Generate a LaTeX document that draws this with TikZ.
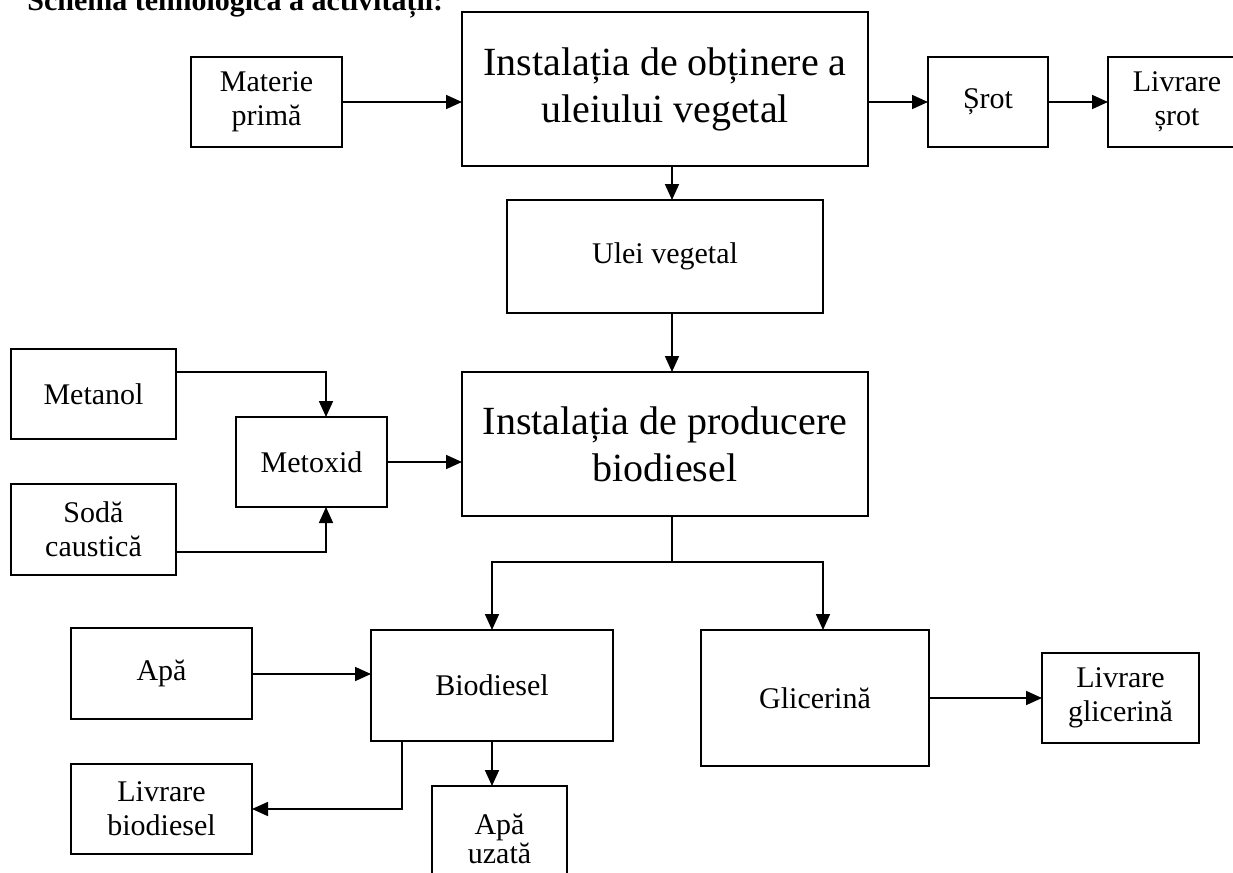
\documentclass[tikz,border=0pt]{standalone}
\usepackage{fontspec}
\setmainfont{Liberation Serif}
\usetikzlibrary{arrows.meta,calc}
\tikzset{
  box/.style={draw, line width=1pt, inner sep=2pt, outer sep=0pt, align=center, font=\fontsize{15}{17}\selectfont},
  bigbox/.style={box, font=\fontsize{20}{23.5}\selectfont},
  arr/.style={line width=0.85pt, -{Triangle[length=8pt,width=7pt]}},
  ln/.style={line width=0.85pt},
}
\begin{document}
\begin{tikzpicture}[x=0.5pt,y=-0.5pt]
\clip (0,0) rectangle (1233,873);
% title
\node[anchor=base west, inner sep=0pt, font=\fontsize{15}{18}\selectfont\bfseries] (title) at (27,10) {Schema tehnologică a activității:};
% boxes
\node[box, minimum width=75.5pt, minimum height=45pt] (mp) at (266.5,102) {Materie\\primă};
\node[bigbox, minimum width=203pt, minimum height=77pt] (inst1) at (665,89) {Instalația de obținere a\\uleiului vegetal};
\node[box, minimum width=60pt, minimum height=45pt] (srot) at (988,102) {Șrot};
\node[box, minimum width=69pt, minimum height=45pt] (lsrot) at (1177,102) {Livrare\\șrot};
\node[box, minimum width=158pt, minimum height=56.5pt] (ulei) at (665,256.5) {Ulei vegetal};
\node[bigbox, minimum width=203pt, minimum height=72pt] (inst2) at (665,444) {Instalația de producere\\biodiesel};
\node[box, minimum width=82.5pt, minimum height=45pt] (metanol) at (93.5,394) {Metanol};
\node[box, minimum width=75.5pt, minimum height=45pt] (metoxid) at (311.5,462) {Metoxid};
\node[box, minimum width=82.5pt, minimum height=45.5pt] (soda) at (93.5,529.5) {Sodă\\caustică};
\node[box, minimum width=121pt, minimum height=55.5pt] (biod) at (492,685.5) {Biodiesel};
\node[box, minimum width=114pt, minimum height=68pt] (glic) at (815,698) {Glicerină};
\node[box, minimum width=78.5pt, minimum height=45pt] (lglic) at (1120.5,698) {Livrare\\glicerină};
\node[box, minimum width=90.5pt, minimum height=45.5pt] (apa) at (161.5,673.5) {Apă};
\node[box, minimum width=90.5pt, minimum height=45pt] (lbiod) at (161.5,809) {Livrare\\biodiesel};
\node[box, font=\fontsize{15}{13}\selectfont, minimum width=67.5pt, minimum height=53pt] (apau) at (499.5,839) {Apă\\uzată};
% connectors
\draw[arr] (mp.east) -- (mp.east -| inst1.west);
\draw[arr] (inst1.east |- srot.west) -- (srot.west);
\draw[arr] (srot.east) -- (lsrot.west);
\draw[arr] ([xshift=3.5pt]inst1.south) -- ([xshift=3.5pt]inst1.south |- ulei.north);
\draw[arr] ([xshift=3.5pt]ulei.south) -- ([xshift=3.5pt]ulei.south |- inst2.north);
\draw[arr] ([yshift=11pt]metanol.east) -| ([xshift=7.25pt]metoxid.north);
\draw[arr] ([yshift=-11.25pt]soda.east) -| ([xshift=7.25pt]metoxid.south);
\draw[arr] (metoxid.east) -- (metoxid.east -| inst2.west);
\coordinate (split) at ($([xshift=3.5pt]inst2.south)+(0,46)$);
\draw[ln] ([xshift=3.5pt]inst2.south) -- (split);
\draw[arr] (split) -| (biod.north);
\draw[arr] (split) -| ([xshift=4pt]glic.north);
\draw[arr] (glic.east) -- (lglic.west);
\draw[arr] ([yshift=-0.25pt]apa.east) -- ([yshift=-0.25pt]apa.east -| biod.west);
\draw[arr] ([xshift=-45pt]biod.south) |- (lbiod.east);
\draw[arr] (biod.south) -- (biod.south |- apau.north);
\end{tikzpicture}
\end{document}
